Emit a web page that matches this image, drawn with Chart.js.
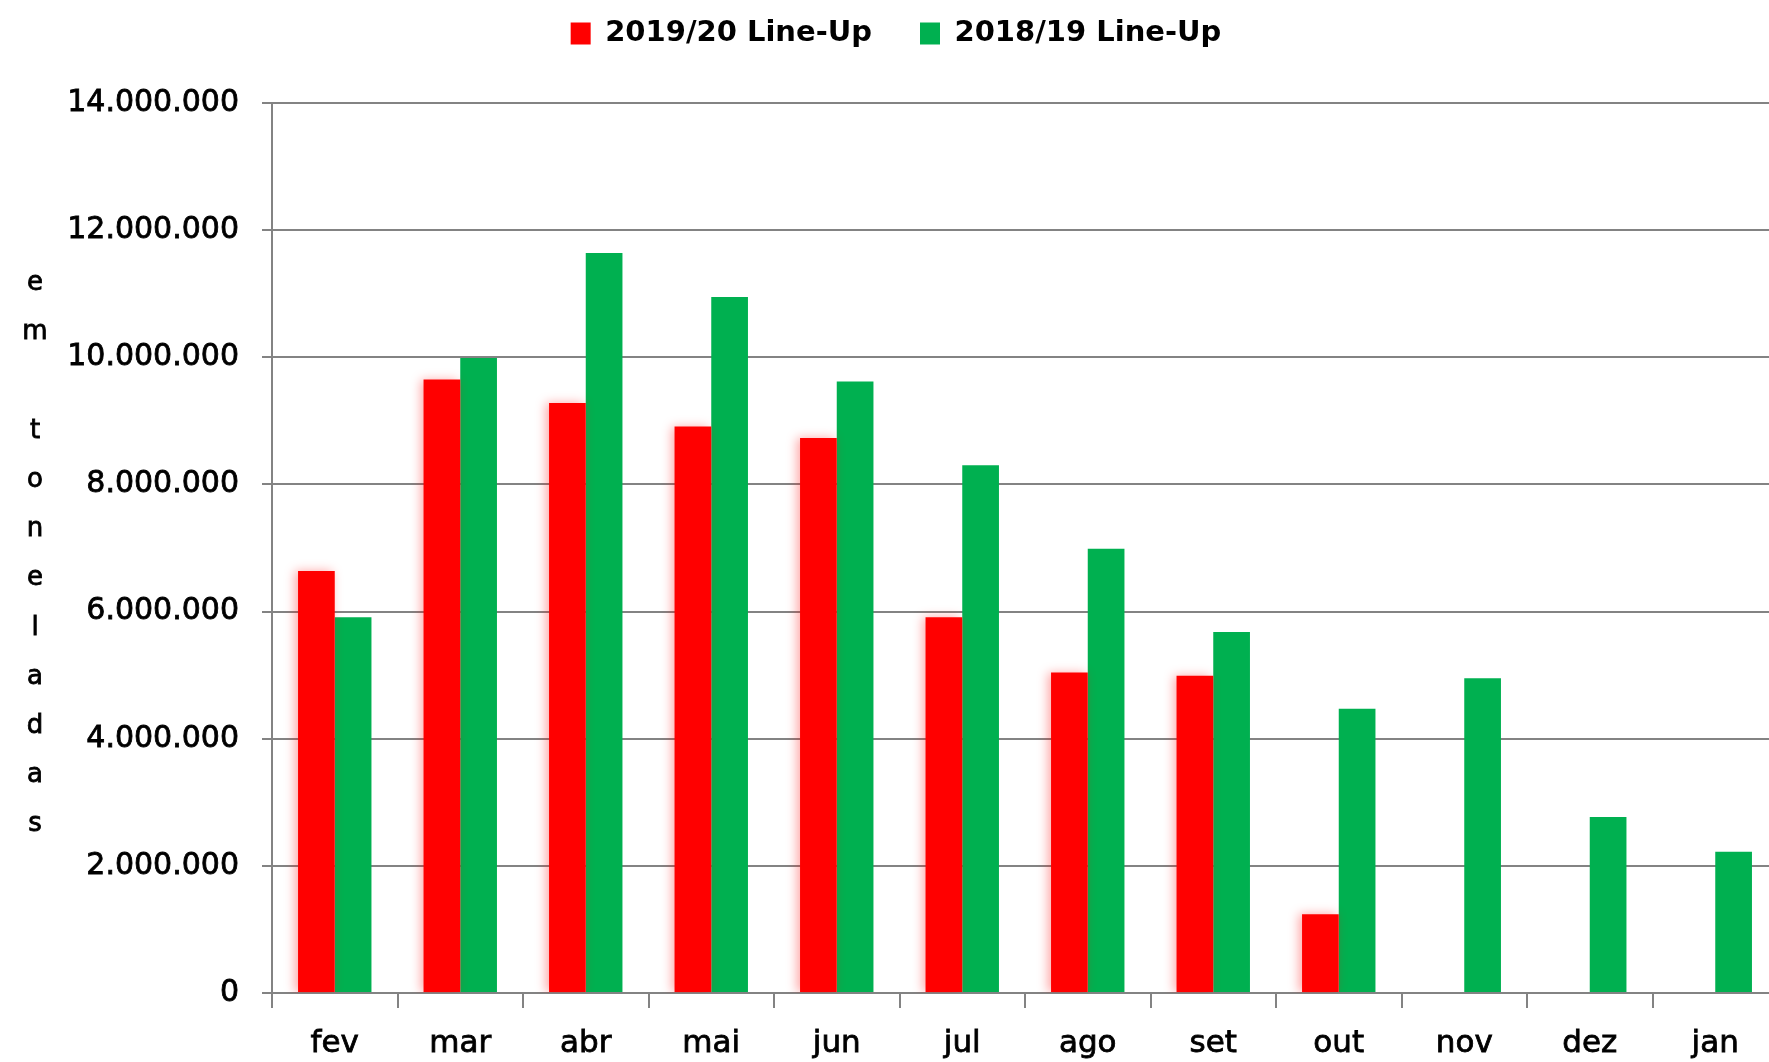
<!DOCTYPE html>
<html>
<head>
<meta charset="utf-8">
<script src="https://cdn.jsdelivr.net/npm/chart.js"></script>
<style>
  html, body { margin: 0; padding: 0; background: #fff; overflow: hidden; }
  #wrap { position: relative; width: 1790px; height: 1062px; }
</style>
</head>
<body>
<div id="wrap"><canvas id="chart"></canvas></div>
<script>
// data (tonnes)
const months = ['fev', 'mar', 'abr', 'mai', 'jun', 'jul', 'ago', 'set', 'out', 'nov', 'dez', 'jan'];
const seriesNames = ['2019/20 Line-Up', '2018/19 Line-Up'];
const lineUp1920 = [6640000, 9650000, 9280000, 8910000, 8730000, 5910000, 5040000, 4990000, 1240000, null, null, null];
const lineUp1819 = [5910000, 9990000, 11640000, 10950000, 9620000, 8300000, 6990000, 5680000, 4470000, 4950000, 2770000, 2220000];
const yMin = 0;
const yMax = 14000000;
const yStep = 2000000;
const yTitle = 'em toneladas';

const gridGray = '#838383';
const fontFamily = '"DejaVu Sans", Verdana, sans-serif';

// dotted thousands, like 14.000.000
function fmt(v) {
    return String(v).replace(/\B(?=(\d{3})+(?!\d))/g, '.');
}

// soft red edge on the left of the 2019/20 bars
const barGlow = {
    id: 'barGlow',
    beforeDatasetDraw(chart, args) {
        if (args.index !== 0) return;
        const ctx = chart.ctx;
        ctx.save();
        ctx.shadowColor = 'rgba(255, 0, 0, 0.35)';
        ctx.shadowBlur = 10;
        ctx.shadowOffsetX = -3;
    },
    afterDatasetDraw(chart, args) {
        if (args.index === 0) chart.ctx.restore();
    }
};

// axis title written letter under letter
const stackedTitle = {
    id: 'stackedTitle',
    afterDraw(chart) {
        const {ctx, chartArea} = chart;
        const chars = yTitle.split('');
        const step = 49.2;
        const mid = (chartArea.top + chartArea.bottom) / 2 + 6;
        ctx.save();
        ctx.font = '26px ' + fontFamily;
        ctx.fillStyle = '#000';
        ctx.strokeStyle = '#000';
        ctx.lineWidth = 0.8;
        ctx.textAlign = 'center';
        ctx.textBaseline = 'middle';
        chars.forEach((c, i) => {
            const y = mid + (i - (chars.length - 1) / 2) * step;
            ctx.fillText(c, 35, y);
            ctx.strokeText(c, 35, y);
        });
        ctx.restore();
    }
};

const ctx = document.getElementById('chart').getContext('2d');
const chart = new Chart(ctx, {
    type: 'bar',
    data: {
        labels: months,
        datasets: [{
            label: seriesNames[0],
            data: lineUp1920,
            backgroundColor: '#ff0000',
            borderWidth: 0
        }, {
            label: seriesNames[1],
            data: lineUp1819,
            backgroundColor: '#00b050',
            borderWidth: 0
        }]
    },
    plugins: [barGlow, stackedTitle],
    options: {
        responsive: true,
        maintainAspectRatio: false,
        animation: false,
        datasets: {
            bar: {
                categoryPercentage: 0.585,
                barPercentage: 1.0
            }
        },
        layout: {
            padding: {top: -29, left: 14, right: 12, bottom: 0}
        },
        plugins: {
            legend: {
                position: 'top',
                labels: {
                    boxWidth: 20,
                    boxHeight: 22,
                    padding: 48,
                    color: '#000',
                    font: {family: fontFamily, size: 29, weight: 'bold'}
                }
            },
            // empty spacer between legend and plot
            subtitle: {
                display: true,
                text: '',
                position: 'top',
                weight: 500,
                padding: {top: 44, bottom: 0},
                font: {size: 1, lineHeight: 1}
            },
            tooltip: {enabled: false}
        },
        scales: {
            x: {
                afterFit: scale => { scale.height = 69; },
                grid: {
                    offset: true,
                    drawOnChartArea: false,
                    drawTicks: true,
                    tickLength: 15,
                    color: gridGray,
                    lineWidth: 2
                },
                border: {color: gridGray, width: 2},
                ticks: {
                    color: '#000',
                    textStrokeColor: '#000',
                    textStrokeWidth: 0.8,
                    font: {family: fontFamily, size: 31},
                    padding: 17,
                    maxRotation: 0,
                    autoSkip: false
                }
            },
            y: {
                min: yMin,
                max: yMax,
                afterFit: scale => { scale.width = 258; },
                grid: {
                    color: gridGray,
                    lineWidth: 2,
                    tickLength: 10
                },
                border: {color: gridGray, width: 2},
                ticks: {
                    stepSize: yStep,
                    padding: 23,
                    color: '#000',
                    textStrokeColor: '#000',
                    textStrokeWidth: 0.8,
                    font: {family: fontFamily, size: 30},
                    callback: v => fmt(v)
                }
            }
        }
    }
});
</script>
</body>
</html>
